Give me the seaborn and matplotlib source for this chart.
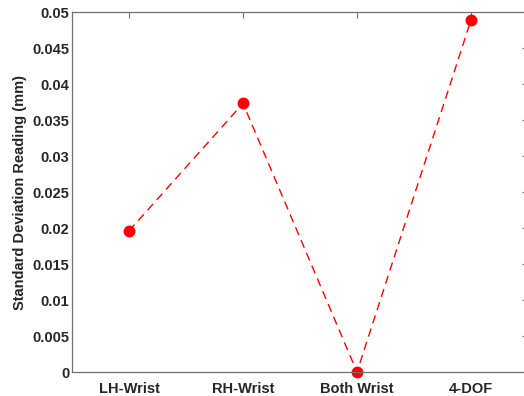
import matplotlib
matplotlib.use("Agg")
import matplotlib.pyplot as plt
import seaborn as sns
import pandas as pd

categories = ["LH-Wrist", "RH-Wrist", "Both Wrist", "4-DOF"]
std_values = [0.0196, 0.0373, 0.0, 0.0489]
y_ticks = [0, 0.005, 0.01, 0.015, 0.02, 0.025, 0.03, 0.035, 0.04, 0.045, 0.05]
y_tick_labels = ["0", "0.005", "0.01", "0.015", "0.02", "0.025", "0.03", "0.035", "0.04", "0.045", "0.05"]

sns.set_style("white")
plt.rcParams['font.family'] = ['Liberation Sans', 'DejaVu Sans']

df = pd.DataFrame({"cat": categories, "val": std_values})

fig = plt.figure(figsize=(5.24, 3.96), dpi=100)
ax = fig.add_axes([72/524, 1-372/396, (528-72)/524, (372-12)/396])

sns.pointplot(data=df, x="cat", y="val", order=categories, color="red",
              linestyles="--", markers="o", ax=ax)
for l in ax.lines:
    l.set_linewidth(1.0)
    l.set_markersize(6.5)
    l.set_dashes([6, 4])
    l.set_clip_on(False)
for c in ax.collections:
    c.set_clip_on(False)

ax.set_xlim(-0.5, 3.5)
ax.set_ylim(0, 0.05)
ax.set_yticks(y_ticks)
ax.set_yticklabels(y_tick_labels)
ax.set_xlabel("")
ax.set_ylabel("Standard Deviation Reading (mm)", fontsize=10.5, fontweight="bold", color="#262626", labelpad=4)

for s in ax.spines.values():
    s.set_color("#707070")
    s.set_linewidth(0.9)
    s.set_visible(True)
ax.tick_params(axis="both", direction="in", length=4, width=0.8, color="#707070",
               labelsize=10.5, labelcolor="#262626", top=True, right=True)
for lbl in ax.get_xticklabels() + ax.get_yticklabels():
    lbl.set_fontweight("bold")
ax.tick_params(axis="x", pad=7)
ax.tick_params(axis="y", pad=2)

fig.savefig("out.png", dpi=100)
